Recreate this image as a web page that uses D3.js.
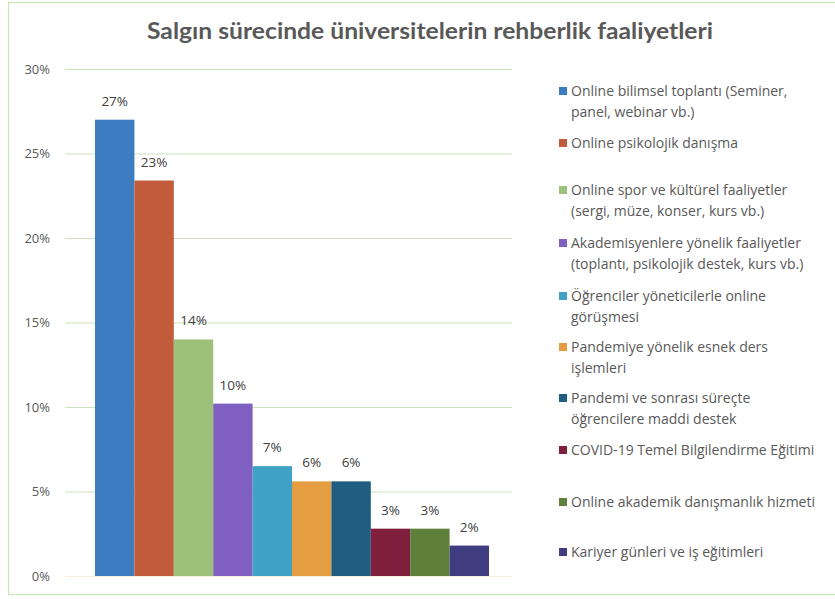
<!DOCTYPE html>
<html><head><meta charset="utf-8">
<script src="https://cdn.jsdelivr.net/npm/d3@7"></script>
<style>body{margin:0;background:#fff}svg{display:block}</style>
</head><body>
<script>
const title = "Salgın sürecinde üniversitelerin rehberlik faaliyetleri";
const categories = [
  ["Online bilimsel toplantı (Seminer,", "panel, webinar vb.)"],
  ["Online psikolojik danışma"],
  ["Online spor ve kültürel faaliyetler", "(sergi, müze, konser, kurs vb.)"],
  ["Akademisyenlere yönelik faaliyetler", "(toplantı, psikolojik destek, kurs vb.)"],
  ["Öğrenciler yöneticilerle online", "görüşmesi"],
  ["Pandemiye yönelik esnek ders", "işlemleri"],
  ["Pandemi ve sonrası süreçte", "öğrencilere maddi destek"],
  ["COVID-19 Temel Bilgilendirme Eğitimi"],
  ["Online akademik danışmanlık hizmeti"],
  ["Kariyer günleri ve iş eğitimleri"]
];
const values = [27.0, 23.4, 14.0, 10.2, 6.5, 5.6, 5.6, 2.8, 2.8, 1.8];
const labels = ["27%","23%","14%","10%","7%","6%","6%","3%","3%","2%"];
const yTicks = [0,5,10,15,20,25,30];
const colors = ["#3E7CC1","#C15B3B","#9DC07B","#7F60C1","#3FA1C5","#E49E41","#1F5E80","#7F1E3D","#5F803B","#3F3D80"];

const W = 835, H = 599;
const svg = d3.select("body").append("svg").attr("width", W).attr("height", H);
const font = "Lato, 'Open Sans', sans-serif";
const font2 = "'Open Sans', Lato, sans-serif";

svg.append("rect").attr("x", 8.5).attr("y", 2.5).attr("width", W).attr("height", 592)
  .attr("fill", "#fff").attr("stroke", "#C9E3BB").attr("stroke-width", 1.2);

svg.append("text").attr("x", 430).attr("y", 39).attr("text-anchor", "middle")
  .attr("font-family", font).attr("font-weight", "bold").attr("font-size", 22)
  .attr("textLength", 566).attr("lengthAdjust", "spacingAndGlyphs")
  .attr("fill", "#595959").text(title);

const x0 = 65, x1 = 512;
const y = d3.scaleLinear().domain([0, 30]).range([576, 69]);
const x = d3.scaleBand().domain(d3.range(values.length)).range([95, 489]).padding(0);

// gridlines
svg.append("g").selectAll("line").data(yTicks).join("line")
  .attr("x1", x0).attr("x2", x1)
  .attr("y1", d => y(d) + 0.5).attr("y2", d => y(d) + 0.5)
  .attr("stroke", d => d === 0 ? "#FBF0D6" : "#C9E3BB").attr("stroke-width", 1);

// y axis labels
const yAxis = d3.axisLeft(y).tickValues(yTicks).tickFormat(d => d + "%").tickSize(0).tickPadding(0);
const ga = svg.append("g").attr("transform", "translate(50,0)").call(yAxis);
ga.select(".domain").remove();
ga.selectAll("text").attr("font-family", font2).attr("font-size", 13).attr("fill", "#595959");

// bars
svg.append("g").selectAll("rect").data(values).join("rect")
  .attr("x", (d, i) => x(i)).attr("width", x.bandwidth())
  .attr("y", d => y(d)).attr("height", d => y(0) - y(d))
  .attr("fill", (d, i) => colors[i]);

// labels
svg.append("g").selectAll("text").data(values).join("text")
  .attr("x", (d, i) => x(i) + x.bandwidth() / 2).attr("y", d => y(d) - 14)
  .attr("text-anchor", "middle").attr("font-family", font2).attr("font-size", 13.5)
  .attr("fill", "#404040").text((d, i) => labels[i]);

// legend
const legY = [91, 143, 190, 243, 296, 347, 398, 450, 502, 552];
const lg = svg.append("g").selectAll("g").data(categories).join("g")
  .attr("transform", (d, i) => `translate(559,${legY[i]})`);
lg.append("rect").attr("x", 0).attr("y", -4).attr("width", 8).attr("height", 8)
  .attr("fill", (d, i) => colors[i]);
lg.each(function(d) {
  const t = d3.select(this).append("text").attr("font-family", font2).attr("font-size", 14)
    .attr("fill", "#595959");
  d.forEach((line, j) => t.append("tspan").attr("x", 12).attr("y", 5 + j * 21).text(line));
});
</script>
</body></html>
